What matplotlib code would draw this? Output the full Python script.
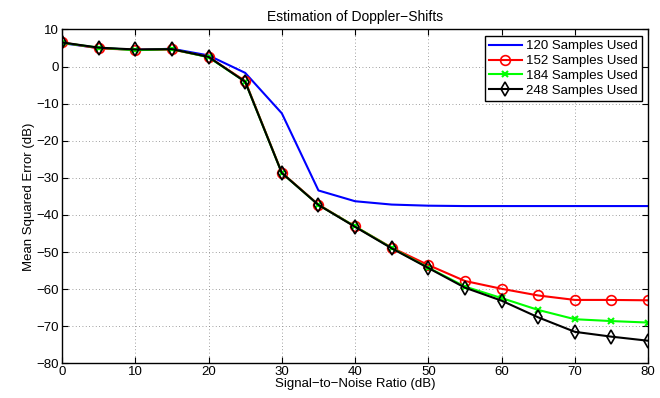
import matplotlib
matplotlib.use('Agg')
import matplotlib.pyplot as plt

# data
snr = [0, 5, 10, 15, 20, 25, 30, 35, 40, 45, 50, 55, 60, 65, 70, 75, 80]
mse_120 = [6.3, 5.0, 4.5, 4.8, 3.0, -1.7, -12.6, -33.4, -36.3, -37.2, -37.5,
           -37.6, -37.6, -37.6, -37.6, -37.6, -37.6]
mse_152 = [6.5, 4.9, 4.5, 4.6, 2.6, -3.9, -28.6, -37.2, -43.1, -48.8, -53.5,
           -57.8, -59.9, -61.7, -62.9, -62.9, -63.0]
mse_184 = [6.4, 5.1, 4.4, 4.7, 2.5, -4.1, -28.7, -37.3, -43.1, -48.9, -54.2,
           -59.3, -62.4, -65.6, -68.1, -68.6, -69.0]
mse_248 = [6.5, 5.1, 4.6, 4.7, 2.6, -4.1, -28.7, -37.3, -43.2, -49.0, -54.3,
           -59.6, -63.1, -67.6, -71.5, -72.8, -73.9]
labels = ['120 Samples Used', '152 Samples Used', '184 Samples Used', '248 Samples Used']

plt.rcParams['font.family'] = ['Liberation Sans', 'DejaVu Sans']
plt.rcParams['font.size'] = 9.5

fig = plt.figure(figsize=(6.6, 3.98), dpi=100)
ax = fig.add_axes([0.094, 0.087, 0.888, 0.839])

ax.plot(snr, mse_120, color='#0000ff', lw=1.5, label=labels[0])
ax.plot(snr, mse_152, color='#ff0000', lw=1.5, marker='o', ms=7, mfc='none',
        mew=1.2, label=labels[1])
ax.plot(snr, mse_184, color='#00ff00', lw=1.5, marker='x', ms=4, mew=1.5,
        label=labels[2])
ax.plot(snr, mse_248, color='#000000', lw=1.5, marker='d', ms=7, mfc='none',
        mew=1.2, label=labels[3])

ax.set_xlim(0, 80)
ax.set_ylim(-80, 10)
ax.set_xticks(range(0, 81, 10))
ax.set_yticks(range(-80, 11, 10))
ax.grid(True, color='#808080', linestyle=(0, (1, 3)), linewidth=0.6)
ax.tick_params(direction='in', top=True, right=True, length=4, width=0.8, pad=2)
for s in ax.spines.values():
    s.set_linewidth(1.0)

ax.set_title('Estimation of Doppler\u2212Shifts', fontsize=10, pad=6)
ax.set_xlabel('Signal\u2212to\u2212Noise Ratio (dB)', labelpad=0)
ax.set_ylabel('Mean Squared Error (dB)', labelpad=1)

leg = ax.legend(loc='upper right', numpoints=1, fancybox=False, framealpha=1,
                edgecolor='black', handlelength=2.5, handletextpad=0.3,
                labelspacing=0.2, borderpad=0.3, borderaxespad=0.5, fontsize=9.5)
leg.get_frame().set_linewidth(1.0)

fig.savefig('out.png', dpi=100)
